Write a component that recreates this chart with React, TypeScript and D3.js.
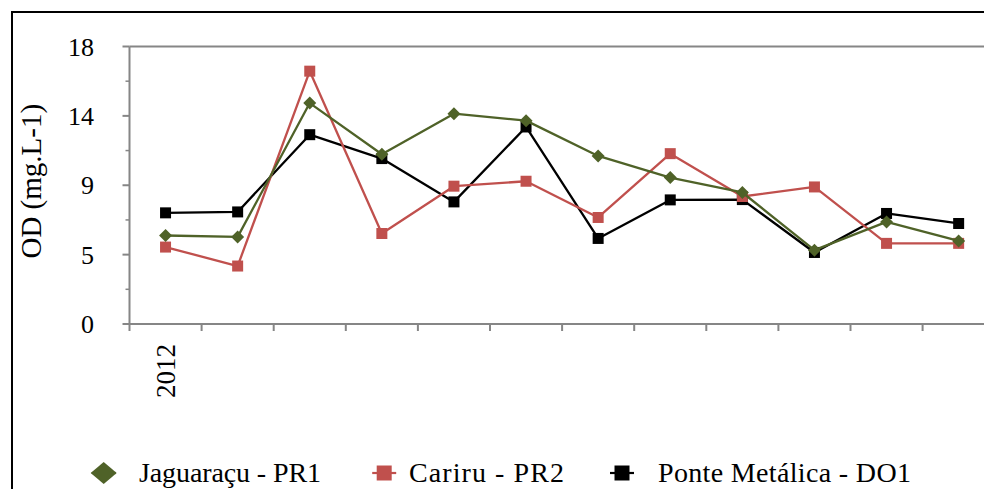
import { useEffect, useRef } from "react";
import * as d3 from "d3";

// one point per month, only the first category carries a label
const categories = ["2012", "", "", "", "", "", "", "", "", "", "", ""];
const jaguaracu = [5.74, 5.65, 14.33, 11.01, 13.64, 13.19, 10.9, 9.5, 8.53, 4.79, 6.62, 5.39];
const cariru = [4.99, 3.76, 16.4, 5.87, 8.94, 9.26, 6.91, 11.05, 8.27, 8.89, 5.23, 5.23];
const ponteMetalica = [7.21, 7.27, 12.28, 10.73, 7.92, 12.78, 5.55, 8.05, 8.07, 4.64, 7.17, 6.52];
const yTicks = [0, 4.5, 9, 13.5, 18];
const yMinorTicks = [2.25, 6.75, 11.25, 15.75];

type Shape = "diamond" | "square";
type Series = { name: string; values: number[]; color: string; shape: Shape };

const series: Series[] = [
  { name: "Jaguaraçu - PR1", values: jaguaracu, color: "#4F6228", shape: "diamond" },
  { name: "Cariru - PR2", values: cariru, color: "#C0504D", shape: "square" },
  { name: "Ponte Metálica - DO1", values: ponteMetalica, color: "#000000", shape: "square" },
];

const W = 984;
const H = 489;
const FONT = '"Liberation Serif", "Times New Roman", Times, serif';

function markerPath(shape: Shape, rx: number, ry: number) {
  if (shape === "diamond") return `M0,${-ry}L${rx},0L0,${ry}L${-rx},0Z`;
  return `M${-rx},${-ry}H${rx}V${ry}H${-rx}Z`;
}

export default function App() {
  const svgRef = useRef<SVGSVGElement | null>(null);

  useEffect(() => {
    if (!svgRef.current) return;
    const svg = d3.select(svgRef.current);
    svg.selectAll("*").remove();

    const plot = { left: 129.5, right: 994.7, top: 46.5, bottom: 324 };

    // outer chart frame (runs past the right/bottom edge of the picture)
    svg
      .append("rect")
      .attr("x", 12)
      .attr("y", 12)
      .attr("width", 1000)
      .attr("height", 500)
      .attr("fill", "#fff")
      .attr("stroke", "#000")
      .attr("stroke-width", 2);

    const x = d3
      .scaleBand<number>()
      .domain(d3.range(categories.length))
      .range([plot.left, plot.right]);

    const y = d3.scaleLinear().domain([0, 18]).range([plot.bottom, plot.top]);

    const axisColor = "#868686";

    // plot area top border
    svg
      .append("line")
      .attr("x1", plot.left)
      .attr("x2", plot.right)
      .attr("y1", y(18))
      .attr("y2", y(18))
      .attr("stroke", axisColor)
      .attr("stroke-width", 2);

    // y axis
    const yAxis = svg.append("g");
    yAxis
      .append("line")
      .attr("x1", plot.left)
      .attr("x2", plot.left)
      .attr("y1", plot.top)
      .attr("y2", plot.bottom)
      .attr("stroke", axisColor)
      .attr("stroke-width", 2);
    yAxis
      .selectAll("line.major")
      .data(yTicks)
      .join("line")
      .attr("class", "major")
      .attr("x1", plot.left - 7)
      .attr("x2", plot.left)
      .attr("y1", (d) => y(d))
      .attr("y2", (d) => y(d))
      .attr("stroke", axisColor)
      .attr("stroke-width", 2);
    yAxis
      .selectAll("line.minor")
      .data(yMinorTicks)
      .join("line")
      .attr("class", "minor")
      .attr("x1", plot.left - 4)
      .attr("x2", plot.left)
      .attr("y1", (d) => y(d))
      .attr("y2", (d) => y(d))
      .attr("stroke", axisColor)
      .attr("stroke-width", 1.5);
    yAxis
      .selectAll("text")
      .data(yTicks)
      .join("text")
      .attr("x", 94)
      .attr("y", (d) => y(d))
      .attr("dy", "0.35em")
      .attr("text-anchor", "end")
      .style("font-family", FONT)
      .style("font-size", "26px")
      .attr("fill", "#000")
      .text((d) => String(Math.round(d)));

    // axis title
    svg
      .append("text")
      .attr("transform", `translate(41,${(plot.top + plot.bottom) / 2 - 4}) rotate(-90)`)
      .attr("text-anchor", "middle")
      .style("font-family", FONT)
      .style("font-size", "29px")
      .attr("fill", "#000")
      .text("OD (mg.L-1)");

    // x axis
    const xAxis = svg.append("g");
    xAxis
      .append("line")
      .attr("x1", plot.left)
      .attr("x2", plot.right)
      .attr("y1", plot.bottom)
      .attr("y2", plot.bottom)
      .attr("stroke", axisColor)
      .attr("stroke-width", 2);
    const bounds = d3.range(categories.length + 1).map((i) =>
      i < categories.length ? (x(i) as number) : plot.right
    );
    xAxis
      .selectAll("line.tick")
      .data(bounds)
      .join("line")
      .attr("class", "tick")
      .attr("x1", (d) => d)
      .attr("x2", (d) => d)
      .attr("y1", plot.bottom)
      .attr("y2", plot.bottom + 7)
      .attr("stroke", axisColor)
      .attr("stroke-width", 2);
    xAxis
      .selectAll("text")
      .data(categories)
      .join("text")
      .attr(
        "transform",
        (_, i) => `translate(${(x(i) as number) + x.bandwidth() / 2},${plot.bottom + 20}) rotate(-90)`
      )
      .attr("dy", "0.36em")
      .attr("text-anchor", "end")
      .style("font-family", FONT)
      .style("font-size", "27px")
      .attr("fill", "#000")
      .text((d) => d);

    // series, drawn so the first one ends up on top
    const cx = (i: number) => (x(i) as number) + x.bandwidth() / 2;
    const line = d3
      .line<number>()
      .x((_, i) => cx(i))
      .y((d) => y(d));

    const drawOrder = [...series].reverse();
    drawOrder.forEach((s) => {
      const g = svg.append("g");
      g.append("path")
        .attr("d", line(s.values) as string)
        .attr("fill", "none")
        .attr("stroke", s.color)
        .attr("stroke-width", 2.3)
        .attr("stroke-linejoin", "round");
      const r = s.shape === "diamond" ? 6.5 : 5.5;
      g.selectAll("path.mk")
        .data(s.values)
        .join("path")
        .attr("class", "mk")
        .attr("transform", (d, i) => `translate(${cx(i)},${y(d)})`)
        .attr("d", markerPath(s.shape, r, r))
        .attr("fill", s.color);
    });

    // legend (marker centre, text start, text width)
    const legendMarkX = [103.7, 384.2, 622];
    const legendTextX = [139, 409, 658];
    const legendTextW = [182, 155, 253];
    const legendY = 473;
    const legend = svg.append("g");
    series.forEach((s, i) => {
      const lg = legend.append("g");
      const mk = lg.append("g").attr("transform", `translate(${legendMarkX[i]},${legendY})`);
      mk.append("line")
        .attr("x1", -12)
        .attr("x2", 12)
        .attr("stroke", s.color)
        .attr("stroke-width", 2.2);
      if (s.shape === "diamond") {
        mk.append("path").attr("d", markerPath("diamond", 13, 11)).attr("fill", s.color);
      } else {
        mk.append("path").attr("d", markerPath("square", 7.5, 7.5)).attr("fill", s.color);
      }
      lg.append("text")
        .attr("x", legendTextX[i])
        .attr("y", legendY + 9)
        .attr("textLength", legendTextW[i])
        .attr("lengthAdjust", "spacing")
        .style("font-family", FONT)
        .style("font-size", "28px")
        .attr("fill", "#000")
        .text(s.name);
    });
  }, []);

  return (
    <svg
      ref={svgRef}
      width={W}
      height={H}
      style={{ position: "absolute", left: 0, top: 0, background: "#fff" }}
    />
  );
}
